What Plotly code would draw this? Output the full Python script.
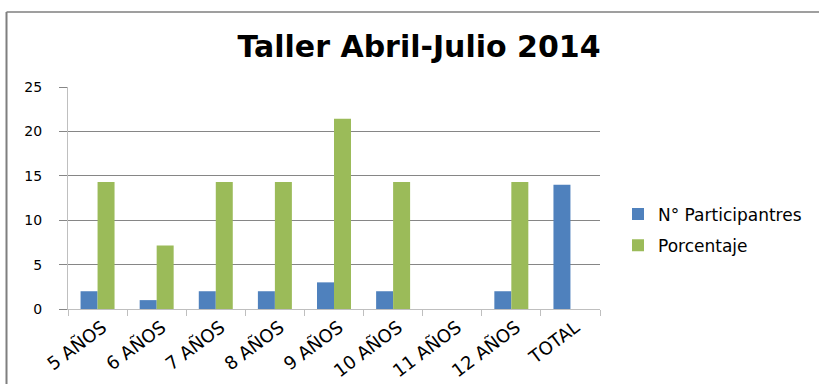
import plotly.graph_objects as go

# Data
categorias = ["5 AÑOS", "6 AÑOS", "7 AÑOS", "8 AÑOS", "9 AÑOS", "10 AÑOS", "11 AÑOS", "12 AÑOS", "TOTAL"]
participantes = [2, 1, 2, 2, 3, 2, 0, 2, 14]
porcentaje = [14.29, 7.14, 14.29, 14.29, 21.43, 14.29, 0, 14.29, None]

AZUL = "#4F81BD"
VERDE = "#9BBB59"
FUENTE = "DejaVu Sans"

W, H = 820, 385
ML, MR, MT, MB = 68, 220, 87, 76
plot_w = W - ML - MR
plot_h = H - MT - MB


def px_x(px):
    return (px - ML) / plot_w


def px_y(py):
    return (H - MB - py) / plot_h


fig = go.Figure()
fig.add_trace(go.Bar(x=categorias, y=participantes, name="N° Participantres",
                     marker=dict(color=AZUL, line=dict(width=0)), legendgroup="a"))
fig.add_trace(go.Bar(x=categorias, y=porcentaje, name="Porcentaje",
                     marker=dict(color=VERDE, line=dict(width=0)), legendgroup="b"))

# Outer chart frame: left and top edges, kept inside the page
fig.add_shape(type="line", xref="paper", yref="paper",
              x0=px_x(6.5), x1=px_x(6.5), y0=px_y(384), y1=px_y(12),
              line=dict(color="#7F7F7F", width=2))
fig.add_shape(type="line", xref="paper", yref="paper",
              x0=px_x(6.5), x1=px_x(819), y0=px_y(12), y1=px_y(12),
              line=dict(color="#7F7F7F", width=1.5))

fig.update_layout(
    width=W, height=H,
    margin=dict(l=ML, r=MR, t=MT, b=MB, autoexpand=False),
    paper_bgcolor="white", plot_bgcolor="white",
    barmode="group", bargap=0.425, bargroupgap=0,
    font=dict(family=FUENTE, color="#000000"),
    title=dict(text="<b>Taller Abril-Julio 2014</b>", x=419 / W, xref="container",
               y=1 - 46 / H, yref="container", xanchor="center", yanchor="middle",
               font=dict(family=FUENTE, size=30, color="#000000")),
    legend=dict(x=px_x(618), y=px_y(230), xanchor="left", yanchor="middle",
                font=dict(family=FUENTE, size=17, color="#000000"),
                traceorder="grouped", tracegroupgap=6, itemwidth=30,
                bgcolor="rgba(0,0,0,0)"),
    xaxis=dict(type="category", range=[-0.5, 8.5], showgrid=False, automargin=False,
               showline=True, linecolor="#BFBFBF", linewidth=1,
               ticks="outside", ticklen=6, tickcolor="#BFBFBF",
               tickson="boundaries", tickangle=-37,
               ticklabelstandoff=0, ticklabelshift=5,
               tickfont=dict(family=FUENTE, size=18, color="#000000")),
    yaxis=dict(range=[0, 25], dtick=5, showgrid=True, gridcolor="#868686", gridwidth=1,
               showline=True, linecolor="#BFBFBF", linewidth=1, automargin=False,
               ticks="outside", ticklen=8, tickcolor="#868686",
               ticklabelstandoff=14, zeroline=False,
               tickfont=dict(family=FUENTE, size=14, color="#000000")),
)

fig.write_html("out.html", config={"displayModeBar": False})
